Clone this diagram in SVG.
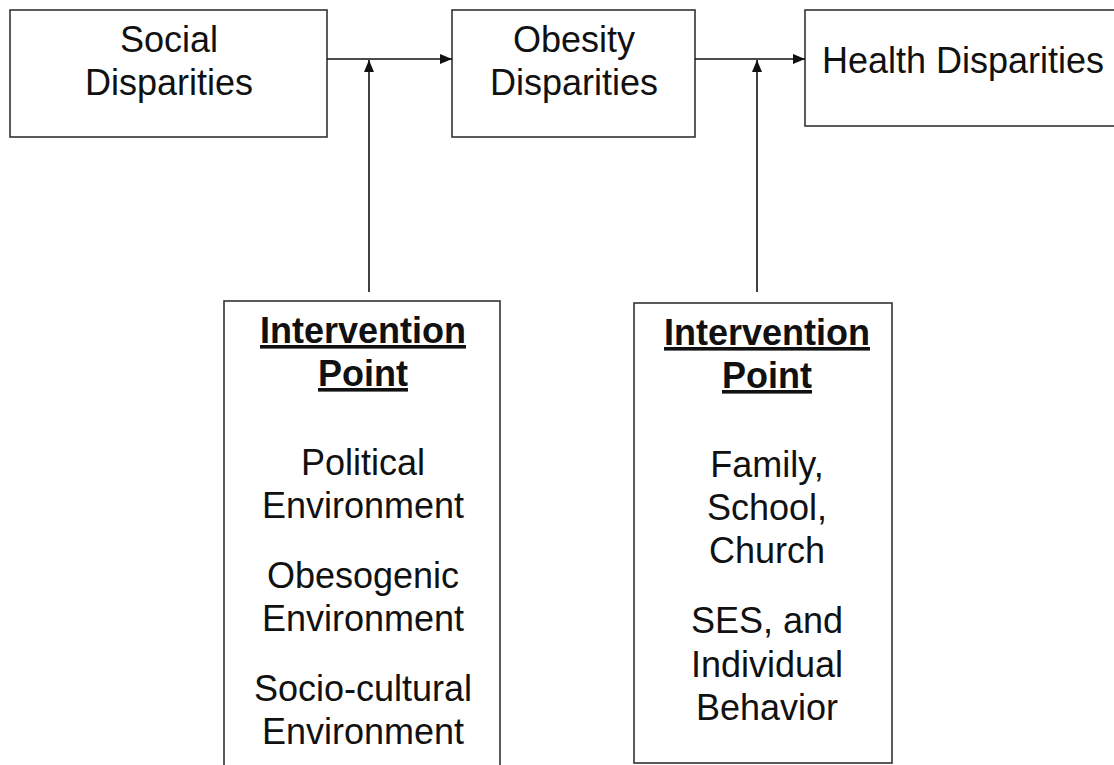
<svg xmlns="http://www.w3.org/2000/svg" width="1114" height="765" viewBox="0 0 1114 765">
<style>
.box{fill:#fff;stroke:#333;stroke-width:1.6}
.t{font-family:"Liberation Sans",Arial,sans-serif;font-size:36px;fill:#111;text-anchor:middle}
.h{font-weight:bold;text-decoration:underline}
.ln{stroke:#111;stroke-width:1.6;fill:none}
</style>
<defs>
<marker id="ah" viewBox="0 0 12 10" refX="12" refY="5" markerWidth="12" markerHeight="10" markerUnits="userSpaceOnUse" orient="auto">
<path d="M0,0 L12,5 L0,10 z" fill="#111"/>
</marker>
</defs>
<rect width="1114" height="765" fill="#fff"/>
<g id="social">
<rect class="box" x="10" y="10" width="317" height="127"/>
<text class="t" x="169" y="52">Social</text>
<text class="t" x="169" y="95">Disparities</text>
</g>
<g id="obesity">
<rect class="box" x="452" y="10" width="243" height="127"/>
<text class="t" x="574" y="52">Obesity</text>
<text class="t" x="574" y="95">Disparities</text>
</g>
<g id="health">
<rect class="box" x="805" y="10" width="320" height="116"/>
<text class="t" x="822" y="73" style="text-anchor:start">Health Disparities</text>
</g>
<g id="intervention1">
<rect class="box" x="224" y="301" width="276" height="480"/>
<text class="t h" x="363" y="343">Intervention</text>
<text class="t h" x="363" y="386">Point</text>
<text class="t" x="363" y="475">Political</text>
<text class="t" x="363" y="518">Environment</text>
<text class="t" x="363" y="588">Obesogenic</text>
<text class="t" x="363" y="631">Environment</text>
<text class="t" x="363" y="701">Socio-cultural</text>
<text class="t" x="363" y="744">Environment</text>
</g>
<g id="intervention2">
<rect class="box" x="634" y="303" width="258" height="460"/>
<text class="t h" x="767" y="345">Intervention</text>
<text class="t h" x="767" y="388">Point</text>
<text class="t" x="767" y="477">Family,</text>
<text class="t" x="767" y="520">School,</text>
<text class="t" x="767" y="563">Church</text>
<text class="t" x="767" y="633">SES, and</text>
<text class="t" x="767" y="677">Individual</text>
<text class="t" x="767" y="720">Behavior</text>
</g>
<g id="connectors">
<line class="ln" x1="327" y1="59" x2="452" y2="59" marker-end="url(#ah)"/>
<line class="ln" x1="369" y1="292" x2="369" y2="60" marker-end="url(#ah)"/>
<line class="ln" x1="695" y1="59" x2="805" y2="59" marker-end="url(#ah)"/>
<line class="ln" x1="757" y1="292" x2="757" y2="60" marker-end="url(#ah)"/>
</g>
</svg>
